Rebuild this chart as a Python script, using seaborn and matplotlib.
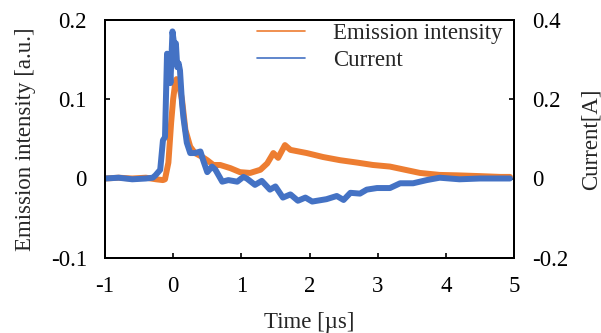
import numpy as np
import pandas as pd
import matplotlib
matplotlib.use("Agg")
import matplotlib.pyplot as plt
import seaborn as sns

# ---- data ----
t_em = [-1.0, -0.8, -0.6, -0.4, -0.25, -0.15, -0.12, -0.07, -0.03, 0.0, 0.03, 0.05,
        0.07, 0.1, 0.13, 0.18, 0.25, 0.32, 0.43, 0.5, 0.59, 0.69, 0.84, 0.98, 1.13,
        1.28, 1.38, 1.47, 1.54, 1.64, 1.72, 1.96, 2.2, 2.45, 2.7, 2.93, 3.18, 3.4,
        3.62, 3.91, 4.16, 4.5, 4.8, 4.94]
emission = [0.0, 0.001, 0.0, 0.001, -0.001, -0.002, -0.001, 0.02, 0.07, 0.1, 0.12, 0.125,
            0.121, 0.112, 0.099, 0.061, 0.04, 0.032, 0.027, 0.023, 0.017, 0.017, 0.013, 0.008, 0.007,
            0.011, 0.019, 0.032, 0.026, 0.042, 0.036, 0.032, 0.027, 0.023, 0.02, 0.017, 0.015, 0.011,
            0.007, 0.0045, 0.004, 0.003, 0.002, 0.002]

t_cur = [-1.0, -0.8, -0.6, -0.4, -0.3, -0.26, -0.19, -0.15, -0.12, -0.09, -0.06, -0.04,
         -0.01, 0.02, 0.04, 0.06, 0.08, 0.1, 0.13, 0.15, 0.2, 0.25, 0.32, 0.4, 0.44, 0.5,
         0.57, 0.62, 0.72, 0.81, 0.94, 1.03, 1.08, 1.2, 1.3, 1.42, 1.5, 1.61, 1.72, 1.83,
         1.94, 2.04, 2.25, 2.4, 2.5, 2.6, 2.74, 2.84, 2.99, 3.18, 3.33, 3.52, 3.72, 3.91,
         4.2, 4.5, 4.8, 4.94]
current = [0.0, 0.002, -0.002, 0.0, 0.002, 0.008, 0.022, 0.096, 0.104, 0.314, 0.304, 0.24,
           0.37, 0.33, 0.34, 0.28, 0.29, 0.272, 0.19, 0.154, 0.09, 0.064, 0.064, 0.068, 0.046, 0.016,
           0.03, 0.022, -0.008, -0.004, -0.008, 0.004, 0.0, -0.016, -0.006, -0.028, -0.02, -0.048,
           -0.04, -0.056, -0.048, -0.058, -0.052, -0.044, -0.054, -0.036, -0.038, -0.028, -0.024,
           -0.024, -0.012, -0.012, -0.004, 0.002, -0.002, 0.0, 0.0, 0.0]

x_ticks = [-1, 0, 1, 2, 3, 4, 5]
x_labels = ["-1", "0", "1", "2", "3", "4", "5"]
yl_ticks = [-0.1, 0, 0.1, 0.2]
yl_labels = ["-0.1", "0", "0.1", "0.2"]
yr_ticks = [-0.2, 0, 0.2, 0.4]
yr_labels = ["-0.2", "0", "0.2", "0.4"]

ORANGE = "#ED7D31"
BLUE = "#4472C4"

sns.set_style("ticks")
plt.rcParams["font.family"] = ["Liberation Serif", "DejaVu Serif"]
FS = 16.5

fig = plt.figure(figsize=(6.01, 3.33), dpi=100)
ax = fig.add_axes([105 / 601, 1 - 258 / 333, (514 - 105) / 601, (258 - 19.5) / 333])
ax2 = ax.twinx()

df_em = pd.DataFrame({"t": t_em, "v": emission})
df_cur = pd.DataFrame({"t": t_cur, "v": current})

sns.lineplot(data=df_em, x="t", y="v", ax=ax, color=ORANGE, lw=4.3, sort=False,
             estimator=None, label="Emission intensity", legend=False)
sns.lineplot(data=df_cur, x="t", y="v", ax=ax2, color=BLUE, lw=4.3, sort=False,
             estimator=None, label="Current", legend=False)

ax.set_xlim(-1, 5)
ax.set_ylim(-0.1, 0.2)
ax2.set_ylim(-0.2, 0.4)
ax.set_xticks(x_ticks)
ax.set_xticklabels(x_labels)
ax.set_yticks(yl_ticks)
ax.set_yticklabels(yl_labels)
ax2.set_yticks(yr_ticks)
ax2.set_yticklabels(yr_labels)

for a in (ax, ax2):
    for s in a.spines.values():
        s.set_visible(True)
        s.set_linewidth(1.4)
        s.set_color("black")
    a.tick_params(direction="in", length=3.5, width=1.2, labelsize=FS, pad=13,
                  colors="black")

ax.set_xlabel("Time [\u00b5s]", fontsize=FS, labelpad=11)
ax.set_ylabel("Emission intensity [a.u.]", fontsize=FS, labelpad=11)
ax2.set_ylabel("Current[A]", fontsize=FS, labelpad=9)

handles = [plt.Line2D([], [], color=ORANGE, lw=1.2), plt.Line2D([], [], color=BLUE, lw=1.2)]
ax2.legend(handles, ["Emission intensity", "Current"], loc="upper right",
           bbox_to_anchor=(1.005, 1.045), frameon=False, fontsize=FS,
           handlelength=2.1, handletextpad=1.2, labelspacing=0.3, borderaxespad=0.2)

fig.savefig("out.png", dpi=100)
